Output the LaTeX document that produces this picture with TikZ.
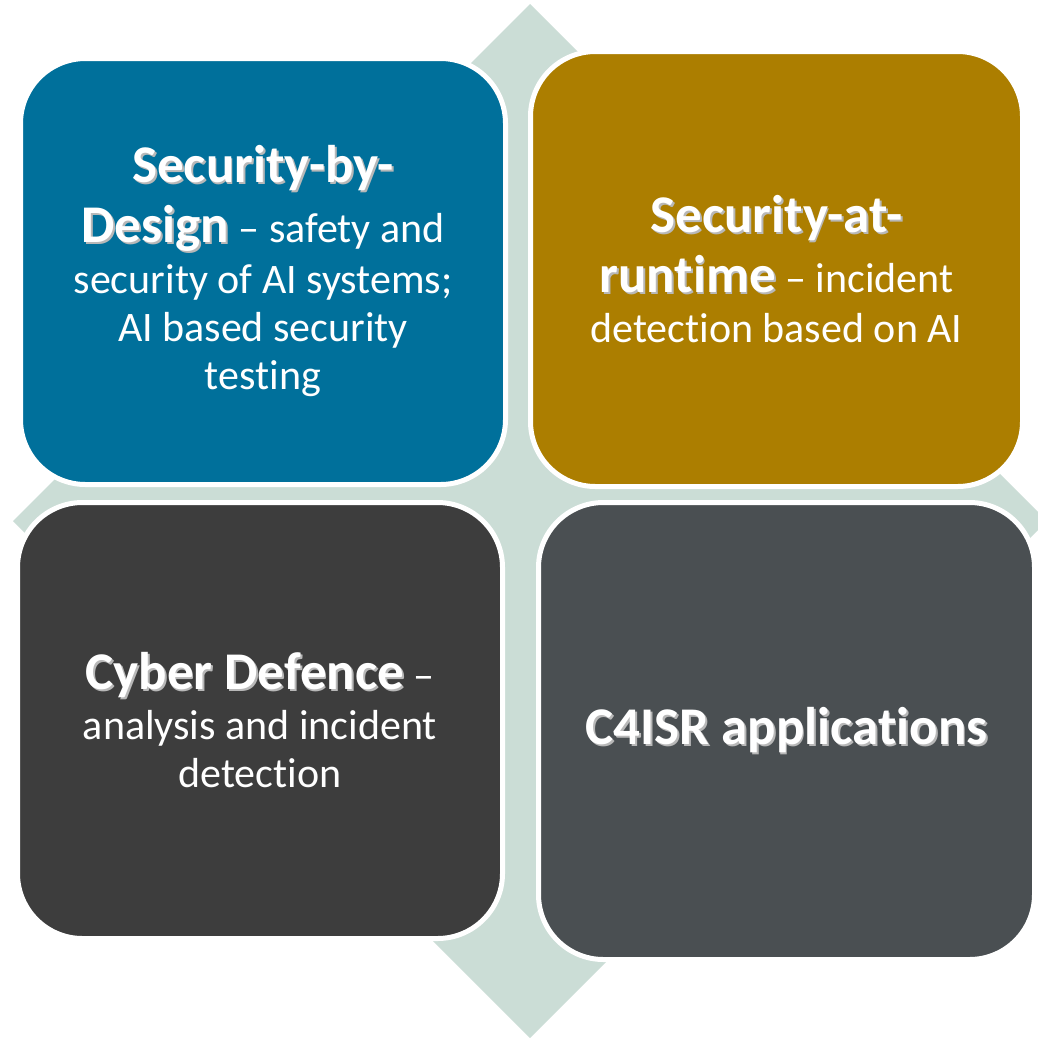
\documentclass[tikz,border=0pt]{standalone}
\usepackage{fontspec}
\setmainfont{Carlito}[Ligatures=NoCommon]
\usepackage{xcolor,tikz}
\usetikzlibrary{positioning}

\definecolor{tileblue}{HTML}{00709B}
\definecolor{tilegold}{HTML}{AC7E00}
\definecolor{tiledark}{HTML}{3D3D3D}
\definecolor{tileslate}{HTML}{4A4F52}
\definecolor{backdrop}{HTML}{CBDDD6}

% bold heading word with a soft drop shadow
\newcommand{\hd}[1]{{\fontsize{53}{60}\selectfont\bfseries
  \rlap{\kern1.8pt\raisebox{-1.8pt}{\color{black!28}#1}}#1}}

\begin{document}
\begin{tikzpicture}[x=1pt,y=-1pt,
  tile/.style={draw=white,line width=5pt,rounded corners=65pt,align=center,
    text=white,font=\fontsize{42}{48}\selectfont,inner sep=0pt},
  back/.style={fill=backdrop}]
\useasboundingbox (0,0) rectangle (1038,1037);
\fill[back] (530,4) -- (13,521) -- (530,1038) -- (1047,521) -- cycle;
\node[tile,fill=tileblue,minimum width=485,minimum height=426] (design) at (263,271.5)
  {\hd{Security-by-}\\[12pt] \hd{Design} -- safety and\\[3pt]
   security of AI systems;\\ AI based security\\ testing};
\node[tile,fill=tilegold,minimum width=492,minimum height=435] (runtime) at (776.5,269)
  {\hd{Security-at-}\\[12pt] \hd{runtime} -- incident\\[2pt] detection based on AI};
\node[tile,fill=tiledark,minimum width=485,minimum height=436] (defence) at (260,720.5)
  {\hd{Cyber Defence} --\\[2pt] analysis and incident\\ detection};
\node[tile,fill=tileslate,minimum width=496,minimum height=457] (cfour) at (786.5,731)
  {\hd{C4ISR applications}};
\end{tikzpicture}
\end{document}
